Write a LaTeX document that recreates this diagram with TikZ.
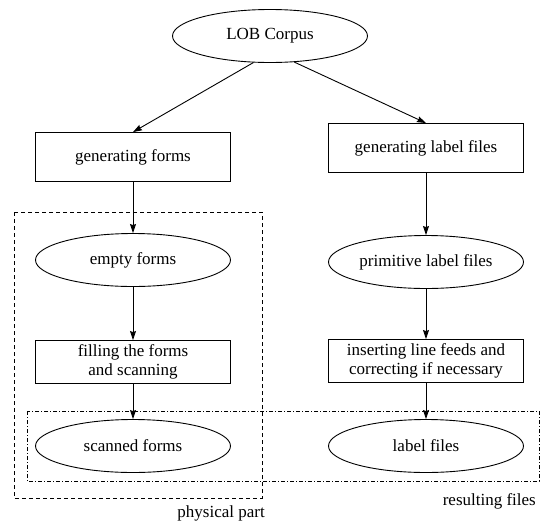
\documentclass[tikz,border=0pt]{standalone}
\usepackage{fontspec}
\setmainfont{Liberation Serif}
\usetikzlibrary{arrows.meta,shapes.geometric}
\begin{document}
\begin{tikzpicture}[x=1pt,y=-1pt,
  every node/.style={font=\fontsize{17}{19}\selectfont},
  proc/.style={draw,line width=0.9pt,rectangle,minimum width=195pt,minimum height=49pt,inner sep=0pt,align=center},
  proc2/.style={proc,minimum height=43pt},
  data/.style={draw,line width=0.9pt,ellipse,minimum width=195pt,minimum height=53pt,inner sep=0pt},
  flow/.style={line width=0.9pt,-{Stealth[length=9pt,width=6pt,inset=1pt]}},
  grp/.style={line width=0.8pt,dash pattern=on 4pt off 3pt},
  grp2/.style={line width=0.8pt,dash pattern=on 4pt off 2pt on 1pt off 2pt},
  lbl/.style={inner sep=0pt,anchor=base east}]
\useasboundingbox (0,0) rectangle (541,523);
\node[data] (lob) at (270,36) {LOB Corpus};
\node[proc] (gf) at (133,157) {generating forms};
\node[proc] (gl) at (426,148) {generating label files};
\node[data] (ef) at (133,260) {empty forms};
\node[data] (pl) at (426,262) {primitive label files};
\node[proc2] (fs) at (133,362) {filling the forms\\and scanning};
\node[proc2] (il) at (426,361) {inserting line feeds and\\correcting if necessary};
\node[data] (sf) at (133,446) {scanned forms};
\node[data] (lf) at (426,446) {label files};
\draw[flow] (lob.238) -- (gf.north);
\draw[flow] (lob.313) -- (gl.north);
\draw[flow] (gf) -- (ef);
\draw[flow] (gl) -- (pl);
\draw[flow] (ef) -- (fs);
\draw[flow] (pl) -- (il);
\draw[flow] (fs) -- (sf);
\draw[flow] (il) -- (lf);
\draw[grp] (14,212) rectangle (262,498);
\draw[grp2] (27,411) rectangle (539,481);
\node[lbl] (pp) at (265,517) {physical part};
\node[lbl] (rf) at (536,505) {resulting files};
\end{tikzpicture}
\end{document}
